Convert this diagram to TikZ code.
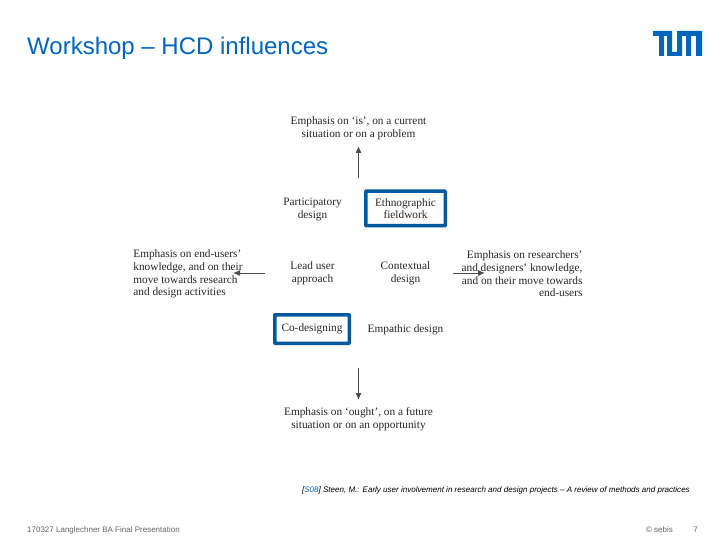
\documentclass[tikz,border=0pt]{standalone}
\usepackage{fontspec}
\usetikzlibrary{arrows.meta}
\setmainfont{Liberation Serif}
\setsansfont{Liberation Sans}
\definecolor{tumBlue}{HTML}{0065BD}
\definecolor{boxBlue}{HTML}{00589F}
\definecolor{footGrey}{HTML}{666666}
\begin{document}
\begin{tikzpicture}[x=1pt, y=-1pt,
    labelStyle/.style={font=\fontsize{11.3}{12.7}\selectfont, text=black!85, align=center, inner sep=0pt},
    boxStyle/.style={labelStyle, draw=boxBlue, line width=3.5pt, rounded corners=0.5pt, fill=white},
    arrowStyle/.style={-{Latex[length=7pt,width=6pt]}, line width=1pt, draw=black!70},
    footStyle/.style={font=\sffamily\fontsize{8}{9}\selectfont, text=footGrey, inner sep=0pt}]
    \useasboundingbox (0,0) rectangle (720,540);
    \fill[white] (0,0) rectangle (720,540);

    \node[anchor=west, inner sep=0pt, text=tumBlue, font=\sffamily\fontsize{24}{26}\selectfont](title) at (27, 48.5) {Workshop – HCD influences};
    \fill[tumBlue] (653,31) -- (672,31) -- (672,52) -- (677,52) -- (677,31) -- (702,31) -- (702,56) -- (696,56) -- (696,36) -- (691,36) -- (691,56) -- (686,56) -- (686,36) -- (682,36) -- (682,56) -- (667,56) -- (667,36) -- (664,36) -- (664,56) -- (659,56) -- (659,36) -- (653,36) -- cycle;

    \node[labelStyle](isNode) at (358.5, 128.5) {Emphasis on ‘is’, on a current\\situation or on a problem};
    \node[labelStyle](participatory) at (312.5, 209.5) {Participatory\\design};
    \node[boxStyle, minimum width=79.5pt, minimum height=34.5pt](ethnographic) at (405.5, 208.5) {Ethnographic\\fieldwork};
    \node[labelStyle, align=left](endUsers) at (188, 274) {Emphasis on end-users’\\knowledge, and on their\\move towards research\\and design activities};
    \node[labelStyle](leadUser) at (312.5, 273) {Lead user\\approach};
    \node[labelStyle](contextual) at (405.5, 273) {Contextual\\design};
    \node[labelStyle, align=right](researchers) at (522, 274) {Emphasis on researchers’\\and designers’ knowledge,\\and on their move towards\\end-users};
    \node[boxStyle, minimum width=74.5pt, minimum height=28.5pt](codesigning) at (312, 329) {Co-designing};
    \node[labelStyle](empathic) at (405.5, 329.5) {Empathic design};
    \node[labelStyle](oughtNode) at (358.5, 419.5) {Emphasis on ‘ought’, on a future\\situation or on an opportunity};

    \coordinate(upStart) at (358.5, 178);
    \coordinate(upEnd) at (358.5, 146);
    \coordinate(downStart) at (358.5, 368);
    \coordinate(downEnd) at (358.5, 400);
    \coordinate(leftStart) at (265, 273);
    \coordinate(leftEnd) at (233, 273);
    \coordinate(rightStart) at (453, 273);
    \coordinate(rightEnd) at (485, 273);
    \draw[arrowStyle] (upStart) -- (upEnd);
    \draw[arrowStyle] (downStart) -- (downEnd);
    \draw[arrowStyle] (leftStart) -- (leftEnd);
    \draw[arrowStyle] (rightStart) -- (rightEnd);

    \node[anchor=east, inner sep=0pt, font=\sffamily\itshape\fontsize{8.04}{9}\selectfont](citation) at (690, 490) {[{\color{tumBlue}S08}] Steen, M.: Early user involvement in research and design projects – A review of methods and practices};
    \node[footStyle, anchor=west](footerLeft) at (27, 530) {170327 Langlechner BA Final Presentation};
    \node[footStyle, anchor=east](sebis) at (673, 530) {© sebis};
    \node[footStyle, anchor=east](pageNo) at (698, 530) {7};
\end{tikzpicture}
\end{document}
